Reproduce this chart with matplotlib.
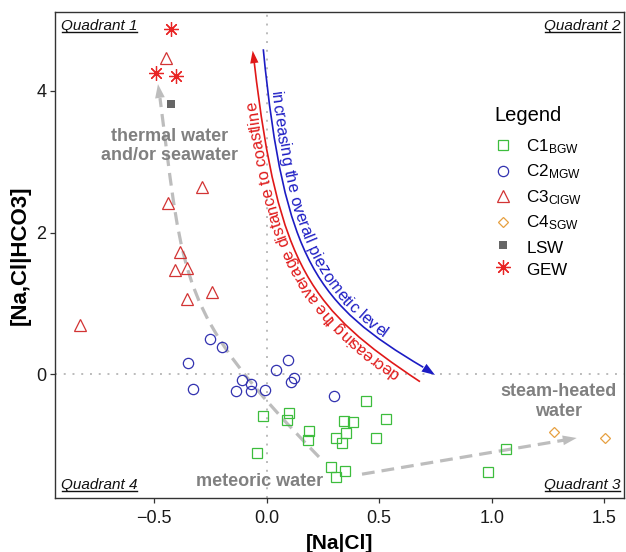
import numpy as np
import matplotlib
matplotlib.use("Agg")
import matplotlib.pyplot as plt
from matplotlib.path import Path
from matplotlib.patches import PathPatch
from matplotlib.lines import Line2D
from matplotlib.transforms import IdentityTransform
from matplotlib.font_manager import FontProperties, findfont
from matplotlib.ft2font import FT2Font

plt.rcParams['font.family'] = ['Liberation Sans', 'DejaVu Sans']
plt.rcParams['mathtext.fontset'] = 'custom'
plt.rcParams['mathtext.rm'] = 'Liberation Sans'
plt.rcParams['mathtext.it'] = 'Liberation Sans:italic'
plt.rcParams['mathtext.bf'] = 'Liberation Sans:bold'
plt.rcParams['axes.unicode_minus'] = True

# ---------------- data ----------------
c1_x = [-0.016, 0.100, 0.090, 0.187, 0.184, -0.043, 0.440, 0.342, 0.382, 0.307,
        0.354, 0.336, 0.529, 0.487, 0.287, 0.350, 0.310, 1.062, 0.985]
c1_y = [-0.58, -0.54, -0.64, -0.80, -0.92, -1.11, -0.38, -0.65, -0.67, -0.89,
        -0.82, -0.96, -0.63, -0.90, -1.30, -1.36, -1.45, -1.05, -1.37]
c2_x = [-0.252, -0.199, -0.351, -0.327, -0.111, -0.071, -0.138, -0.071, -0.006,
        0.040, 0.095, 0.108, 0.120, 0.300]
c2_y = [0.50, 0.39, 0.16, -0.21, -0.08, -0.13, -0.23, -0.23, -0.22,
        0.07, 0.21, -0.10, -0.05, -0.30]
c3_x = [-0.449, -0.286, -0.439, -0.387, -0.406, -0.352, -0.243, -0.352, -0.831]
c3_y = [4.46, 2.64, 2.41, 1.72, 1.47, 1.50, 1.16, 1.06, 0.70]
c4_x = [1.276, 1.504]
c4_y = [-0.81, -0.89]
lsw_x = [-0.427]
lsw_y = [3.81]
gew_x = [-0.424, -0.493, -0.404]
gew_y = [4.87, 4.25, 4.20]

x_ticks = [-0.5, 0.0, 0.5, 1.0, 1.5]
x_ticklabels = ["\u22120.5", "0.0", "0.5", "1.0", "1.5"]
y_ticks = [0, 2, 4]
y_ticklabels = ["0", "2", "4"]

legend_labels = [r"$\mathregular{C1_{BGW}}$", r"$\mathregular{C2_{MGW}}$",
                 r"$\mathregular{C3_{ClGW}}$", r"$\mathregular{C4_{SGW}}$",
                 r"$\mathregular{LSW_{\ }}$", r"$\mathregular{GEW_{\ }}$"]

# annotation paths (data coordinates: Bezier control points)
meteoric_curve = [(0.2324, -1.1628), (-0.3898, 0.8668), (-0.3676, 1.2615), (-0.4742, 3.8957)]
meteoric_tip = (-0.4831, 4.0930)
steam_line = [(0.4236, -1.4052), (1.3209, -0.926)]
steam_tip = (1.3778, -0.8950)
red_curve = [(0.6813, -0.1015), (0.2018, 0.9063), (0.0511, 1.4841), (-0.0551, 4.3946)]
red_tip = (-0.0622, 4.5638)
blue_curve = [(-0.0151, 4.5835), (0.0769, 1.5856), (0.2280, 0.9796), (0.6960, 0.1015)]
blue_tip = (0.7480, -0.0070)

red_text = "decreasing the average distance to coastline"
blue_text = "increasing the overall piezometic level"

# colours
GREEN = "#3dbd3d"
BLUE = "#3232b0"
RED_T = "#d23434"
ORANGE = "#e6a040"
GREY_SQ = "#666666"
RED_S = "#e82424"
ARROW_RED = "#e01818"
ARROW_BLUE = "#1c1cc4"
ANN_GREY = "#808080"
DASH_GREY = "#bdbdbd"

W, H = 626, 552
fig = plt.figure(figsize=(W / 100, H / 100), dpi=100)
L, R, T, B = 54.5, 624, 11.7, 498
ax = fig.add_axes([L / W, 1 - B / H, (R - L) / W, (B - T) / H])
ax.set_xlim(-0.943, 1.588)
ax.set_ylim(-1.741, 5.113)

for s in ax.spines.values():
    s.set_color("#333333")
    s.set_linewidth(1.0)
ax.set_xticks(x_ticks)
ax.set_xticklabels(x_ticklabels)
ax.set_yticks(y_ticks)
ax.set_yticklabels(y_ticklabels)
ax.tick_params(direction="out", length=3.5, width=0.9, color="#333333",
               labelsize=13, labelcolor="#1a1a1a")
ax.tick_params(axis="x", pad=5)
ax.tick_params(axis="y", pad=2.5)
ax.set_xlabel("[Na|Cl]", fontsize=15, fontweight="bold", labelpad=5)
ax.set_ylabel("[Na,Cl|HCO3]", fontsize=16, fontweight="bold", labelpad=4)

# reference lines
ax.axhline(0, color="#bbbbbb", lw=1.4, ls=(0, (1, 3.5)), zorder=0)
ax.axvline(0, color="#bbbbbb", lw=1.4, ls=(0, (1, 3.5)), zorder=0)

# ------------- annotations (arrows) -------------
def bez_patch(ctrl, color, lw, ls, z=1):
    if len(ctrl) == 4:
        codes = [Path.MOVETO, Path.CURVE4, Path.CURVE4, Path.CURVE4]
    else:
        codes = [Path.MOVETO, Path.LINETO]
    p = PathPatch(Path(ctrl, codes), fill=False, edgecolor=color, lw=lw,
                  ls=ls, capstyle="butt", zorder=z)
    ax.add_patch(p)

def head(base, tip, color, hl, hw, z=2):
    ax.annotate("", xy=tip, xytext=base,
                arrowprops=dict(arrowstyle=f"-|>,head_length={hl},head_width={hw}",
                                color=color, lw=0, shrinkA=0, shrinkB=0,
                                mutation_scale=10), zorder=z)

bez_patch(meteoric_curve, DASH_GREY, 2.3, (0, (4, 2.2)))
head(meteoric_curve[-1], meteoric_tip, DASH_GREY, 1.0, 0.35)
bez_patch(steam_line, DASH_GREY, 2.3, (0, (4, 2.2)))
head(steam_line[-1], steam_tip, DASH_GREY, 1.0, 0.35)

bez_patch(red_curve, ARROW_RED, 1.2, "-", z=3)
head(red_curve[-1], red_tip, ARROW_RED, 0.9, 0.3, z=3)
bez_patch(blue_curve, ARROW_BLUE, 1.2, "-", z=3)
head(blue_curve[-1], blue_tip, ARROW_BLUE, 0.95, 0.33, z=3)

# ------------- scatter -------------
mew = 0.9
ax.plot(c1_x, c1_y, ls="none", marker="s", ms=7.2, mfc="none", mec=GREEN, mew=mew, zorder=4)
ax.plot(c2_x, c2_y, ls="none", marker="o", ms=7.4, mfc="none", mec=BLUE, mew=mew, zorder=4)
ax.plot(c3_x, c3_y, ls="none", marker="^", ms=9.3, mfc="none", mec=RED_T, mew=mew, zorder=4)
ax.plot(c4_x, c4_y, ls="none", marker="D", ms=5.0, mfc="none", mec=ORANGE, mew=mew, zorder=4)
ax.plot(lsw_x, lsw_y, ls="none", marker="s", ms=6.3, mfc=GREY_SQ, mec=GREY_SQ, mew=0, zorder=4)
ax.plot(gew_x, gew_y, ls="none", marker=(8, 2, 0), ms=10.5, mec=RED_S, mew=mew, zorder=4)

# ------------- legend -------------
handles = [
    Line2D([], [], ls="none", marker="s", ms=7.2, mfc="none", mec=GREEN, mew=mew),
    Line2D([], [], ls="none", marker="o", ms=7.4, mfc="none", mec=BLUE, mew=mew),
    Line2D([], [], ls="none", marker="^", ms=9.3, mfc="none", mec=RED_T, mew=mew),
    Line2D([], [], ls="none", marker="D", ms=5.0, mfc="none", mec=ORANGE, mew=mew),
    Line2D([], [], ls="none", marker="s", ms=6.3, mfc=GREY_SQ, mec=GREY_SQ, mew=0),
    Line2D([], [], ls="none", marker=(8, 2, 0), ms=10.5, mec=RED_S, mew=mew),
]
leg = ax.legend(handles, legend_labels, title="Legend", loc="upper left",
                bbox_to_anchor=(494 / W, 1 - 106 / H), bbox_transform=fig.transFigure,
                frameon=False, fontsize=12.3, title_fontsize=14.5, alignment="left",
                borderpad=0, borderaxespad=0, handlelength=1.0, handletextpad=0.9,
                labelspacing=0.40)
leg._legend_box.sep = 8.7

# ------------- grey text annotations -------------
ax.text(-0.4298, 3.2206, "thermal water\nand/or seawater", ha="center", va="center",
        fontsize=13, fontweight="bold", color=ANN_GREY, linespacing=1.2, zorder=5)
ax.text(-0.0316, -1.515, "meteoric water", ha="center", va="center",
        fontsize=13, fontweight="bold", color=ANN_GREY, zorder=5)
ax.text(1.299, -0.3805, "steam-heated\nwater", ha="center", va="center",
        fontsize=13, fontweight="bold", color=ANN_GREY, linespacing=1.2, zorder=5)

# ------------- quadrant labels -------------
qkw = dict(fontsize=11, style="italic", color="#111111", transform=ax.transAxes, va="center")
quads = [ax.text(0.0114, 0.9700, "Quadrant 1", ha="left", **qkw),
         ax.text(0.9930, 0.9700, "Quadrant 2", ha="right", **qkw),
         ax.text(0.9930, 0.0267, "Quadrant 3", ha="right", **qkw),
         ax.text(0.0114, 0.0267, "Quadrant 4", ha="left", **qkw)]

# ------------- text along curves (one real text object per character) -------------
def bez_eval(P, t):
    P = np.asarray(P, float)
    t = t[:, None]
    return ((1 - t) ** 3 * P[0] + 3 * (1 - t) ** 2 * t * P[1]
            + 3 * (1 - t) * t ** 2 * P[2] + t ** 3 * P[3])

def curve_text(ctrl, text, color, fs, start, gap):
    disp = ax.transData.transform(np.asarray(ctrl, float))
    t = np.linspace(0, 1, 4000)
    pts = bez_eval(disp, t)
    d = np.gradient(pts, axis=0)
    d /= np.hypot(d[:, 0], d[:, 1])[:, None]
    nor = np.column_stack([-d[:, 1], d[:, 0]])
    fs_px = fs * fig.dpi / 72
    mid = gap + 0.36 * fs_px
    off = pts + nor * mid            # curve through the middle of the letters
    seg = np.hypot(*np.diff(off, axis=0).T)
    s = np.concatenate([[0], np.cumsum(seg)])
    font = FT2Font(findfont(FontProperties(family="Liberation Sans")))
    font.set_size(fs, fig.dpi)
    pos = start
    for ch in text:
        g = font.load_char(ord(ch))
        adv = g.linearHoriAdvance / 65536
        sc = pos + adv / 2
        ox = np.interp(sc, s, off[:, 0])
        oy = np.interp(sc, s, off[:, 1])
        tx = np.interp(sc, s, d[:, 0])
        ty = np.interp(sc, s, d[:, 1])
        nn = np.hypot(tx, ty)
        tx, ty = tx / nn, ty / nn
        nx, ny = -ty, tx
        bx = ox - nx * 0.36 * fs_px
        by = oy - ny * 0.36 * fs_px
        ang = np.degrees(np.arctan2(ty, tx))
        if ch != " ":
            fig.text(bx, by, ch, transform=IdentityTransform(),
                     rotation=ang, rotation_mode="anchor", ha="center", va="baseline",
                     fontsize=fs, color=color, family="Liberation Sans", zorder=6)
        pos += adv

curve_text(red_curve, red_text, ARROW_RED, 11.8, 22, 3.0)
curve_text(blue_curve, blue_text, ARROW_BLUE, 11.8, 43, 3.0)

# underline quadrant labels
fig.canvas.draw()
r = fig.canvas.get_renderer()
for q in quads:
    bb = q.get_window_extent(r)
    yline = bb.y0 + 1.5
    fig.add_artist(Line2D([bb.x0 + 1, bb.x1], [yline, yline], transform=IdentityTransform(),
                          color="#111111", lw=1.0))

fig.savefig("out.png", dpi=100)
